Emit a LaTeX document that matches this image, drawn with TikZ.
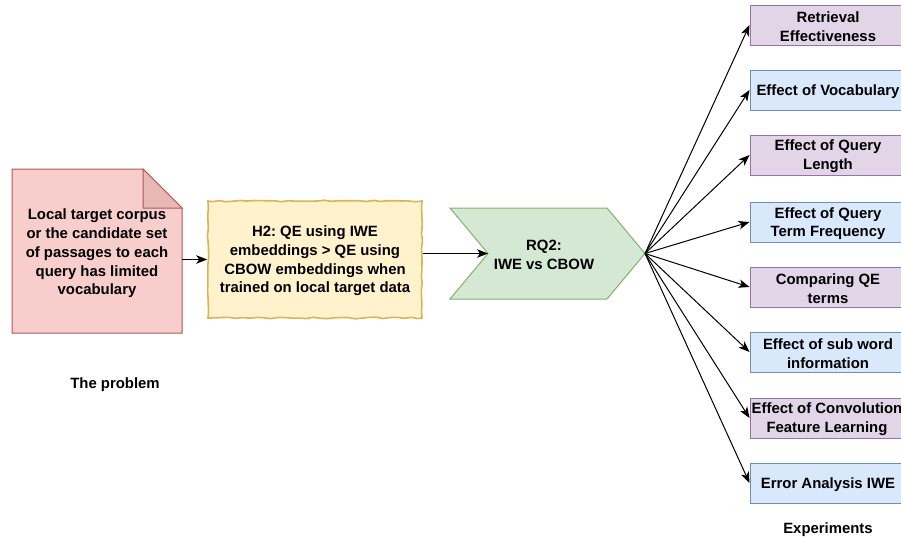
\documentclass[tikz,border=0pt]{standalone}
\usepackage{fontspec}
\setmainfont{Liberation Sans}
\frenchspacing
\usetikzlibrary{arrows.meta,decorations.pathmorphing}
\definecolor{pinkfill}{HTML}{F8CECC}
\definecolor{pinkline}{HTML}{B85450}
\definecolor{pinkfold}{HTML}{E8B8B6}
\definecolor{yelfill}{HTML}{FFF2CC}
\definecolor{yelline}{HTML}{D6B656}
\definecolor{grnfill}{HTML}{D5E8D4}
\definecolor{grnline}{HTML}{82B366}
\definecolor{purfill}{HTML}{E1D5E7}
\definecolor{purline}{HTML}{9673A6}
\definecolor{blufill}{HTML}{DAE8FC}
\definecolor{bluline}{HTML}{6C8EBF}
\tikzset{
  lbl/.style={font=\bfseries\fontsize{14.9}{18.7}\selectfont, align=center, inner sep=0pt},
  arr/.style={-{Stealth[length=11pt,width=8.5pt,inset=3pt]}, line width=1pt, black},
  expbox/.style={draw, line width=1pt, minimum width=156pt, minimum height=40pt, inner sep=0pt,
    font=\bfseries\fontsize{14.9}{18.7}\selectfont, align=center},
  purbox/.style={expbox, fill=purfill, draw=purline},
  blubox/.style={expbox, fill=blufill, draw=bluline},
}
\begin{document}
\begin{tikzpicture}[x=1pt,y=-1pt]
\useasboundingbox (0,0) rectangle (901,541);
\clip (0,0) rectangle (901,541);
% document shape
\path[fill=pinkfill, draw=pinkline, line width=1pt]
  (12,169) -- (143,169) -- (182,208) -- (182,333) -- (12,333) -- cycle;
\path[fill=pinkfold, draw=pinkline, line width=1pt]
  (143,169) -- (143,208) -- (182,208) -- cycle;
\node[inner sep=0pt, minimum width=170pt, minimum height=164pt] (doc) at (97,251) {};
\node[lbl] (doctext) at (97,253.5) {Local target corpus\\or the candidate set\\of passages to each\\query has limited\\vocabulary};
\node[lbl] (problem) at (115,385) {The problem};
% hypothesis
\node[draw=yelline, fill=yelfill, line width=1.6pt, decorate,
  decoration={random steps, segment length=7pt, amplitude=0.8pt},
  minimum width=214pt, minimum height=117pt, inner sep=0pt] (h2) at (315,259.5) {};
\node[lbl] (h2text) at (315,261) {H2: QE using IWE\\embeddings > QE using\\CBOW embeddings when\\trained on local target data};
% chevron
\path[fill=grnfill, draw=grnline, line width=1pt]
  (450,208) -- (607,208) -- (645,253.5) -- (607,299) -- (450,299) -- (488,253.5) -- cycle;
\coordinate (rqnotch) at (488,253.5);
\coordinate (rqtip) at (645,253.5);
\node[lbl] (rq) at (544,255) {RQ2:\\IWE vs CBOW};
% arrows main
\draw[arr] (doc.east |- h2.west) -- (h2.west);
\draw[arr] (h2.east |- rqnotch) -- (rqnotch);
% experiment boxes
\node[purbox] (e1) at (828,25) {};
\node[blubox] (e2) at (828,90) {};
\node[purbox] (e3) at (828,155) {};
\node[blubox] (e4) at (828,222) {};
\node[purbox] (e5) at (828,287) {};
\node[blubox] (e6) at (828,352) {};
\node[purbox] (e7) at (828,418) {};
\node[blubox] (e8) at (828,483) {};
\node[lbl] (t1) at (828,26.5) {Retrieval\\Effectiveness};
\node[lbl] (t2) at (828,91.5) {Effect of Vocabulary};
\node[lbl] (t3) at (828,156.5) {Effect of Query\\Length};
\node[lbl] (t4) at (828,223.5) {Effect of Query\\Term Frequency};
\node[lbl] (t5) at (828,288.5) {Comparing QE\\terms};
\node[lbl] (t6) at (828,353.5) {Effect of sub word\\information};
\node[lbl] (t7) at (827,419.5) {Effect of Convolution\\Feature Learning};
\node[lbl] (t8) at (828,484.5) {Error Analysis IWE};
\foreach \e in {e1,e2,e3,e4,e5,e6,e7,e8}
  \draw[arr] (rqtip) -- (\e.west);
\node[lbl] (exp) at (828,530) {Experiments};
\end{tikzpicture}
\end{document}
